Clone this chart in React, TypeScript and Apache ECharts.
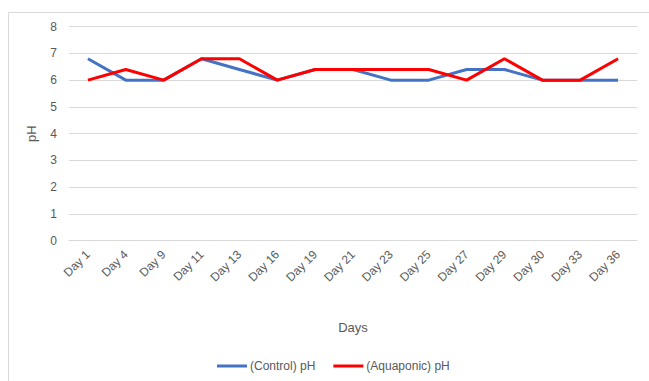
import React, { useEffect, useRef } from "react";
import * as echarts from "echarts";

const categories = ["Day 1", "Day 4", "Day 9", "Day 11", "Day 13", "Day 16", "Day 19", "Day 21", "Day 23", "Day 25", "Day 27", "Day 29", "Day 30", "Day 33", "Day 36"];
const controlPH = [6.8, 6.0, 6.0, 6.8, 6.4, 6.0, 6.4, 6.4, 6.0, 6.0, 6.4, 6.4, 6.0, 6.0, 6.0];
const aquaponicPH = [6.0, 6.4, 6.0, 6.8, 6.8, 6.0, 6.4, 6.4, 6.4, 6.4, 6.0, 6.8, 6.0, 6.0, 6.8];

const FONT = "Liberation Sans";
const TEXT = "#595959";

export default function App() {
  const ref = useRef<HTMLDivElement>(null);
  useEffect(() => {
    document.body.style.margin = "0";
    const chart = echarts.init(ref.current!, null, { renderer: "svg" });
    chart.setOption({
      animation: false,
      backgroundColor: "#ffffff",
      textStyle: { fontFamily: FONT },
      graphic: [
        {
          type: "rect",
          shape: { x: 8.5, y: 12.5, width: 660, height: 400 },
          style: { fill: "none", stroke: "#d9d9d9", lineWidth: 1 },
          silent: true,
          z: -10,
        },
      ],
      grid: { left: 69, right: 12, top: 26.7, bottom: 140.5 },
      legend: {
        left: 212,
        top: 355,
        itemWidth: 30,
        itemHeight: 3,
        itemGap: 18,
        icon: "rect",
        textStyle: { color: TEXT, fontSize: 12, fontFamily: FONT, padding: [0, 0, 0, -2] },
        data: ["(Control) pH", "(Aquaponic) pH"],
      },
      xAxis: {
        type: "category",
        data: categories,
        boundaryGap: true,
        name: "Days",
        nameLocation: "middle",
        nameGap: 80,
        nameTextStyle: { color: TEXT, fontSize: 13, fontFamily: FONT },
        axisLine: { show: true, lineStyle: { color: "#d9d9d9", width: 1 } },
        axisTick: { show: false },
        axisLabel: { rotate: 45, color: TEXT, fontSize: 12, fontFamily: FONT, margin: 12, interval: 0 },
      },
      yAxis: {
        type: "value",
        min: 0,
        max: 8,
        interval: 1,
        name: "pH",
        nameLocation: "middle",
        nameGap: 31,
        nameTextStyle: { color: TEXT, fontSize: 13, fontFamily: FONT },
        axisLine: { show: false },
        axisTick: { show: false },
        axisLabel: { color: TEXT, fontSize: 12, fontFamily: FONT, margin: 12 },
        splitLine: { lineStyle: { color: "#d9d9d9", width: 1 } },
      },
      series: [
        {
          name: "(Control) pH",
          type: "line",
          data: controlPH,
          symbol: "none",
          itemStyle: { color: "#4472C4" },
          lineStyle: { color: "#4472C4", width: 3 },
        },
        {
          name: "(Aquaponic) pH",
          type: "line",
          data: aquaponicPH,
          symbol: "none",
          itemStyle: { color: "#FF0000" },
          lineStyle: { color: "#FF0000", width: 3 },
        },
      ],
    });
    return () => chart.dispose();
  }, []);
  return <div ref={ref} style={{ width: 649, height: 381 }} />;
}
